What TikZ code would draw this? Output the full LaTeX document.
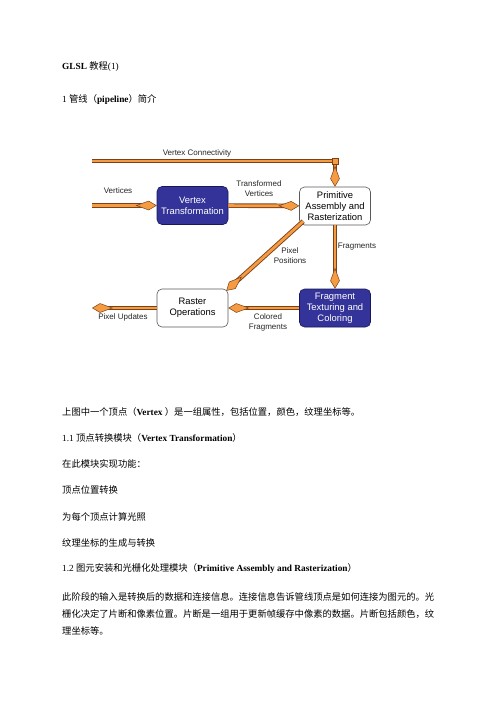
\documentclass[tikz,border=0pt]{standalone}
\usepackage{fontspec}
\setmainfont{Liberation Serif}
\newfontfamily\cjk{Noto Sans CJK SC}
\newfontfamily\arial{Liberation Sans}
\usetikzlibrary{arrows.meta}
\definecolor{porange}{RGB}{245,155,65}
\definecolor{pbrown}{RGB}{125,65,25}
\definecolor{pblue}{RGB}{51,51,153}
\definecolor{pnavy}{RGB}{25,25,90}
\begin{document}
\begin{tikzpicture}[x=1pt,y=-1pt,
  box/.style={rounded corners=5pt, minimum width=71pt, minimum height=38pt, align=center, font=\arial\fontsize{9.4}{10.8}\selectfont, inner sep=1pt},
  whitebox/.style={box, draw=black!65, fill=white, line width=0.6pt},
  bluebox/.style={box, draw=pnavy, fill=pblue, text=white, line width=0.6pt},
  lab/.style={font=\arial\fontsize{8}{10}\selectfont, align=center, inner sep=0pt, text=black!85},
  pipeline/.style={draw=porange, line width=2.8pt, preaction={draw=pbrown, line width=4.6pt}},
  pipe/.style={draw=porange, line width=2.8pt, -{Kite[length=21pt,width=9.5pt,inset=13pt,fill=porange,color=pbrown,line width=0.5pt]}, preaction={draw=pbrown, line width=4.6pt, -, shorten >=10pt}},
  junction/.style={draw=pbrown, fill=porange, line width=0.5pt, minimum size=6pt, inner sep=0pt},
  body/.style={anchor=west, inner sep=0pt, font=\fontsize{9.3}{11}\selectfont},
]
\useasboundingbox[fill=white] (0,0) rectangle (496,702);

% body text
\node[body] (t1) at (62,67) {\textbf{GLSL} {\cjk 教程}(1)};
\node[body] (t2) at (62,100) {1 {\cjk 管线（}\textbf{pipeline}{\cjk ）简介}};

% diagram
\node[bluebox] (vt) at (192.5,205.5) {Vertex\\Transformation};
\node[whitebox] (prim) at (335,206) {Primitive\\Assembly and\\Rasterization};
\node[bluebox] (frag) at (335,308) {Fragment\\Texturing and\\Coloring};
\node[whitebox] (rop) at (192.5,308) {Raster\\Operations};

\coordinate (vin) at (92,205.5);
\coordinate (vc) at (92,161);
\coordinate (pout) at (92,308);
\coordinate (jc) at (335,161);

\draw[pipeline] (vc) -- (jc);
\draw[pipe] (jc) -- (prim);
\node[junction] (jn) at (jc) {};
\draw[pipe] (vin) -- (vt);
\draw[pipe] (vt) -- (prim);
\draw[pipe] (prim) -- (frag);
\draw[pipe] ([shift={(4pt,4pt)}]prim.south west) -- ([shift={(-2pt,-2pt)}]rop.north east);
\draw[pipe] (frag) -- (rop);
\draw[pipe] (rop) -- (pout);

\node[lab] (lvc) at (197,153) {Vertex Connectivity};
\node[lab] (lv) at (118,191) {Vertices};
\node[lab] (ltv) at (259,189) {Transformed\\Vertices};
\node[lab] (lfr) at (357,247) {Fragments};
\node[lab] (lpp) at (290,256) {Pixel\\Positions};
\node[lab] (lcf) at (268,322) {Colored\\Fragments};
\node[lab] (lpu) at (123,317) {Pixel Updates};

\node[body] (t3) at (62,412) {{\cjk 上图中一个顶点（}\textbf{Vertex} {\cjk ）是一组属性，包括位置，颜色，纹理坐标等。}};
\node[body] (t4) at (62,438) {1.1 {\cjk 顶点转换模块（}\textbf{Vertex Transformation}{\cjk ）}};
\node[body] (t5) at (62,464) {{\cjk 在此模块实现功能：}};
\node[body] (t6) at (62,490) {{\cjk 顶点位置转换}};
\node[body] (t7) at (62,517) {{\cjk 为每个顶点计算光照}};
\node[body] (t8) at (62,543) {{\cjk 纹理坐标的生成与转换}};
\node[body] (t9) at (62,569) {1.2 {\cjk 图元安装和光栅化处理模块（}\textbf{Primitive Assembly and Rasterization}{\cjk ）}};
\node[body] (t10) at (62,597) {{\cjk 此阶段的输入是转换后的数据和连接信息。连接信息告诉管线顶点是如何连接为图元的。光}};
\node[body] (t11) at (62,614) {{\cjk 栅化决定了片断和像素位置。片断是一组用于更新帧缓存中像素的数据。片断包括颜色，纹}};
\node[body] (t12) at (62,631) {{\cjk 理坐标等。}};
\end{tikzpicture}
\end{document}
